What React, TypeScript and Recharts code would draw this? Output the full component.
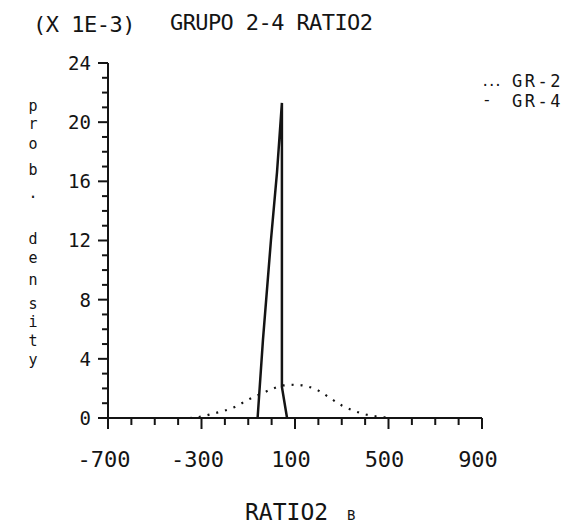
import React from "react";
import { CartesianGrid, Line, LineChart, XAxis, YAxis } from "recharts";

// GR-2 (dotted) density, values in units of 1E-3
const gr2X = [-350, -300, -250, -200, -150, -100, -50, 0, 50, 100, 150, 200, 250, 300, 350, 400, 450, 500];
const gr2Y = [0, 0.1, 0.3, 0.5, 0.8, 1.25, 1.6, 1.95, 2.2, 2.25, 2.15, 1.85, 1.35, 0.85, 0.5, 0.25, 0.1, 0.02];

// GR-4 (solid) narrow spike
const gr4X = [-60, -37, -3, 23, 44, 44, 66];
const gr4Y = [0, 5.3, 12, 16.6, 21.3, 2.1, 0];

const xTicks = [-700, -600, -500, -400, -300, -200, -100, 0, 100, 200, 300, 400, 500, 600, 700, 800, 900];
const xLabels = [-700, -300, 100, 500, 900];
const yTicks = [0, 1, 2, 3, 4, 5, 6, 7, 8, 9, 10, 11, 12, 13, 14, 15, 16, 17, 18, 19, 20, 21, 22, 23, 24];
const yLabels = [0, 4, 8, 12, 16, 20, 24];

const yLetters = ["p", "r", "o", "b", ".", "d", "e", "n", "s", "i", "t", "y"];
const yLetterPos = [106, 124, 144, 170, 193, 239, 258, 280, 304, 322, 341, 360];

const gr2 = gr2X.map((x, i) => ({ x, y: gr2Y[i] }));
const gr4 = gr4X.map((x, i) => ({ x, y: gr4Y[i] }));

const INK = "#141414";
const FONT = "'DejaVu Sans Mono', monospace";

function YTick(props: any) {
  const { x, y, payload } = props;
  const major = yLabels.includes(payload.value);
  return (
    <g>
      <line x1={x - (major ? 10 : 6)} x2={x} y1={y} y2={y} stroke={INK} strokeWidth={2} />
      {major && (
        <text x={x - 17} y={y} dy="0.36em" textAnchor="end" fontFamily={FONT} fontSize={19} fill={INK}>
          {payload.value}
        </text>
      )}
    </g>
  );
}

function XTick(props: any) {
  const { x, y, payload } = props;
  const major = xLabels.includes(payload.value);
  return (
    <g>
      <line x1={x} x2={x} y1={y} y2={y + (major ? 11 : 7)} stroke={INK} strokeWidth={2} />
      {major && (
        <text x={x - 4} y={y + 49} textAnchor="middle" fontFamily={FONT} fontSize={22} fill={INK}>
          {payload.value}
        </text>
      )}
    </g>
  );
}

export default function App() {
  return (
    <div style={{ position: "fixed", left: 0, top: 0, width: 584, height: 530, background: "#fff" }}>
      <LineChart width={584} height={530} margin={{ top: 63, right: 102, left: 48, bottom: 62 }}>
        <CartesianGrid stroke="none" />
        <XAxis
          dataKey="x"
          type="number"
          domain={[-700, 900]}
          ticks={xTicks}
          interval={0}
          height={50}
          tickSize={0}
          tickMargin={0}
          tick={<XTick />}
          axisLine={{ stroke: INK, strokeWidth: 2 }}
          allowDataOverflow
        />
        <YAxis
          type="number"
          domain={[0, 24]}
          ticks={yTicks}
          interval={0}
          width={60}
          tickSize={0}
          tickMargin={0}
          tick={<YTick />}
          axisLine={{ stroke: INK, strokeWidth: 2 }}
        />
        <Line
          data={gr2}
          dataKey="y"
          type="monotone"
          stroke={INK}
          strokeWidth={2.2}
          strokeDasharray="2 7"
          dot={false}
          isAnimationActive={false}
        />
        <Line
          data={gr4}
          dataKey="y"
          type="linear"
          stroke={INK}
          strokeWidth={2.5}
          dot={false}
          isAnimationActive={false}
        />
      </LineChart>
      <svg
        width={584}
        height={530}
        style={{ position: "absolute", left: 0, top: 0, pointerEvents: "none" }}
        fontFamily={FONT}
        fill={INK}
      >
        <text x={33} y={32} fontSize={22} letterSpacing={-0.5}>(X 1E-3)</text>
        <text x={170} y={30} fontSize={22} letterSpacing={-0.6}>GRUPO 2-4 RATIO2</text>
        <text x={481} y={86} fontSize={14} letterSpacing={-2}>...</text>
        <text x={512} y={87} fontSize={17} letterSpacing={2.5}>GR-2</text>
        <text x={482} y={105} fontSize={16}>-</text>
        <text x={512} y={107} fontSize={17} letterSpacing={2.5}>GR-4</text>
        {yLetters.map((c, i) => (
          <text key={i} x={33} y={yLetterPos[i]} dy="0.35em" textAnchor="middle" fontSize={15}>
            {c}
          </text>
        ))}
        <text x={245} y={520} fontSize={23} letterSpacing={0}>RATIO2</text>
        <text x={347} y={520} fontSize={14}>B</text>
      </svg>
    </div>
  );
}
